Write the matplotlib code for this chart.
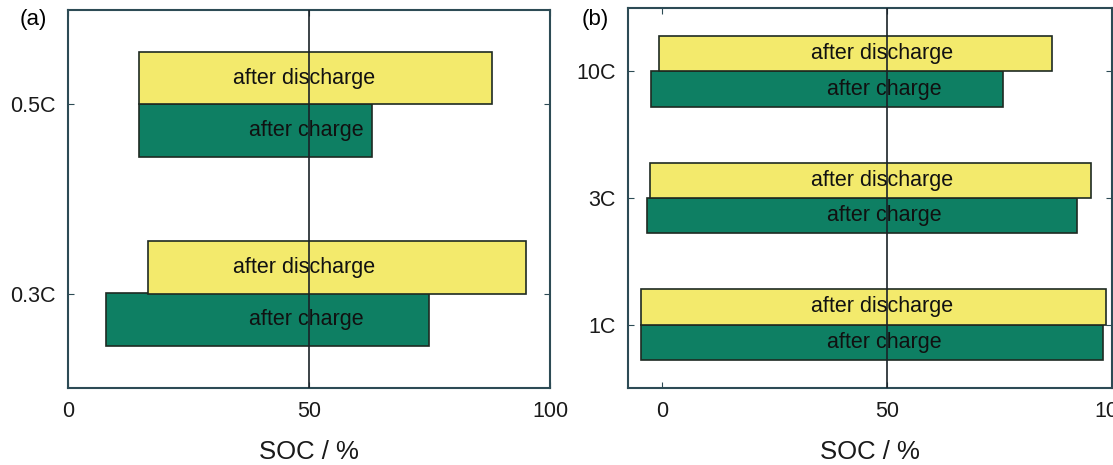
import numpy as np
import matplotlib.pyplot as plt

plt.rcParams['font.family'] = ['Liberation Sans', 'DejaVu Sans']

# panel (a)
rates_a = ['0.3C', '0.5C']
charge_a = [(7.8, 74.9), (14.8, 63.1)]
discharge_a = [(16.7, 95.0), (14.8, 87.9)]

# panel (b)
rates_b = ['1C', '3C', '10C']
charge_b = [(-4.7, 98.0), (-3.3, 92.2), (-2.3, 75.8)]
discharge_b = [(-4.7, 98.6), (-2.6, 95.3), (-0.6, 86.6)]

yellow = '#f3ea6c'
green = '#0e7f63'
spine_col = '#2d4b55'
bar_h = 0.28

fig = plt.figure(figsize=(11.13, 4.65), dpi=100)
ax_a = fig.add_axes([68 / 1113, 77 / 465, 482 / 1113, 378 / 465])
ax_b = fig.add_axes([628 / 1113, 77 / 465, 484 / 1113, 380 / 465])


def draw_panel(ax, rates, charge, discharge, xlim):
    y = np.arange(len(rates))
    c_start = [c[0] for c in charge]
    c_width = [c[1] - c[0] for c in charge]
    d_start = [d[0] for d in discharge]
    d_width = [d[1] - d[0] for d in discharge]
    ax.barh(y - bar_h / 2, c_width, left=c_start, height=bar_h,
            color=green, edgecolor='#1e2a22', linewidth=1.2, zorder=2)
    ax.barh(y + bar_h / 2, d_width, left=d_start, height=bar_h,
            color=yellow, edgecolor='#1e2a22', linewidth=1.2, zorder=2)
    for yi in y:
        ax.text(49, yi + bar_h / 2, 'after discharge', ha='center',
                va='center', fontsize=15.5, color='#111111', zorder=4)
        ax.text(49.5, yi - bar_h / 2, 'after charge', ha='center',
                va='center', fontsize=15.5, color='#111111', zorder=4)
    ax.axvline(50, color='#1a2228', linewidth=1.2, zorder=3)
    ax.set_xlim(*xlim)
    ax.set_ylim(-0.5, len(rates) - 0.5)
    ax.set_yticks(y)
    ax.set_yticklabels(rates)
    ax.set_xticks([0, 50, 100])
    ax.set_xticklabels(['0', '50', '100'])
    ax.tick_params(axis='both', direction='in', length=4, labelsize=15.5,
                   color=spine_col, labelcolor='#1a1a1a', pad=9,
                   right=True, top=True)
    for s in ax.spines.values():
        s.set_color(spine_col)
        s.set_linewidth(1.5)
    ax.set_xlabel('SOC / %', fontsize=18.5, labelpad=13, color='#1a1a1a')


draw_panel(ax_a, rates_a, charge_a, discharge_a, (0, 100))
draw_panel(ax_b, rates_b, charge_b, discharge_b, (-7.5, 100))

fig.text(20 / 1113, 1 - 20 / 465, '(a)', fontsize=16, va='center', ha='left')
fig.text(582 / 1113, 1 - 20 / 465, '(b)', fontsize=16, va='center', ha='left')

fig.savefig('out.png', dpi=100)
